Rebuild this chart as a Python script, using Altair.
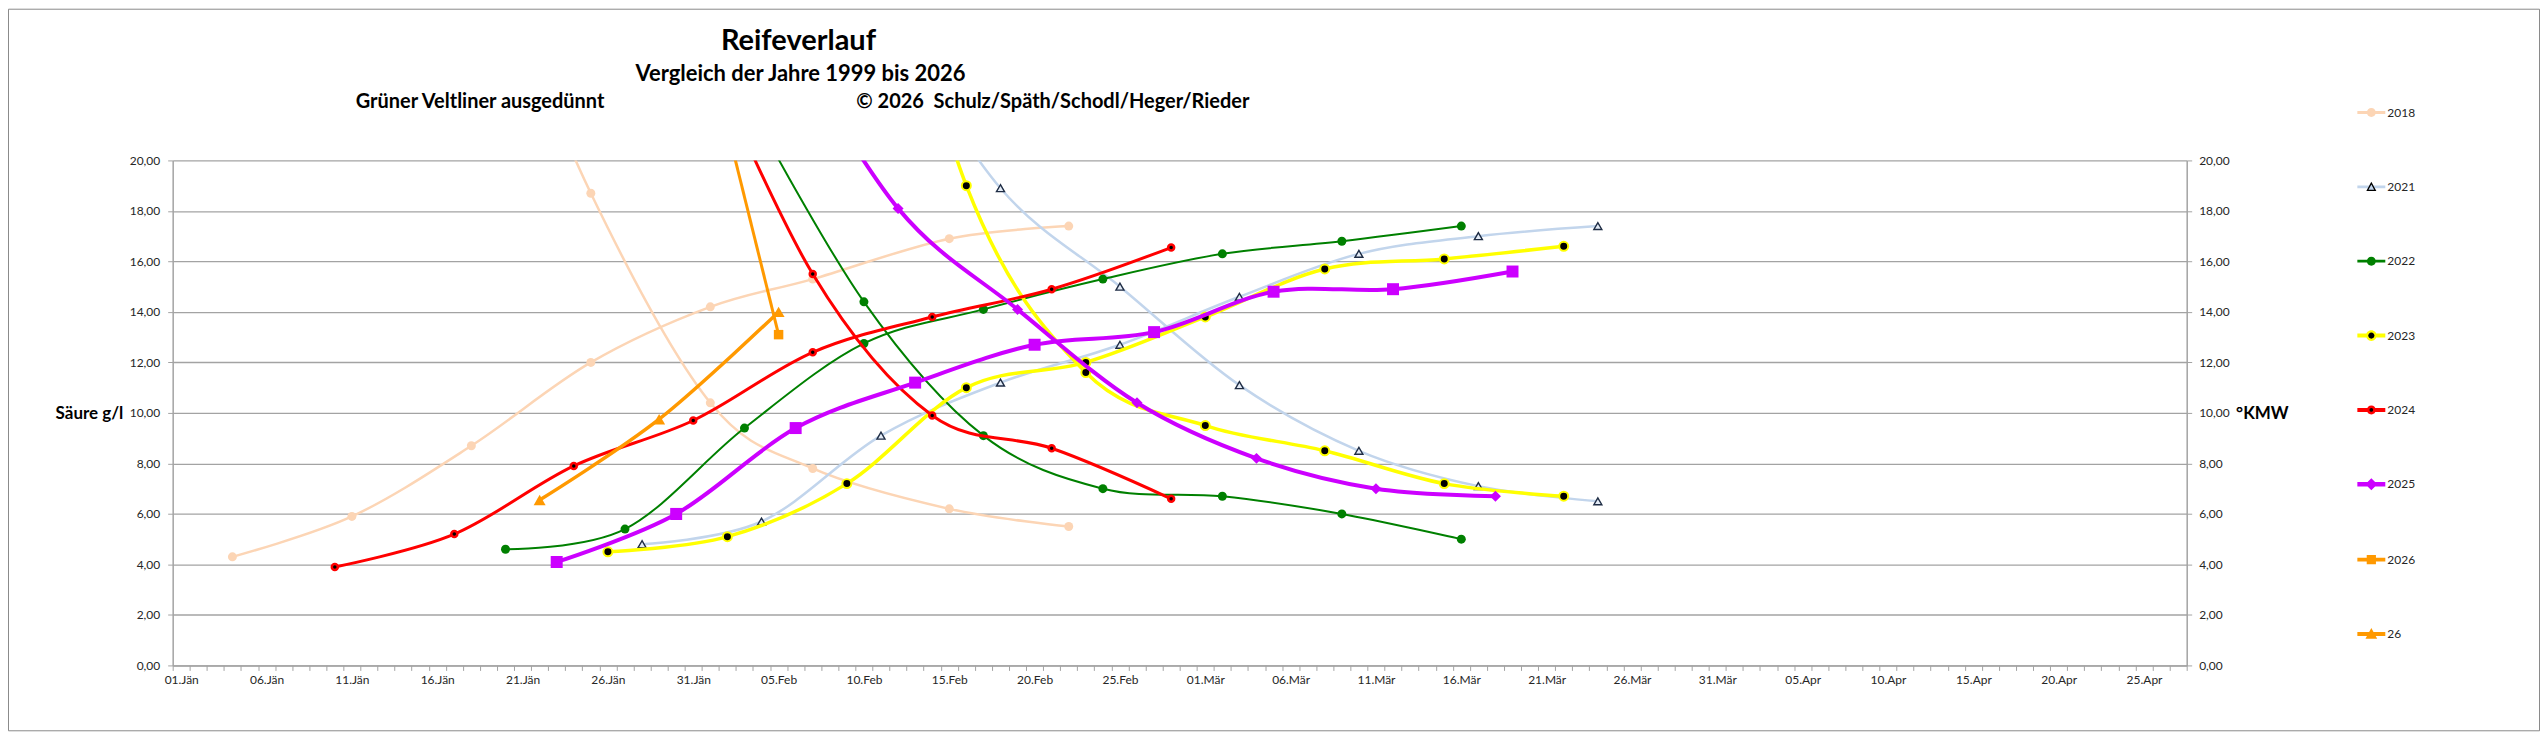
import altair as alt
import pandas as pd

# ---------------- data (dates as MM-DD, day 0 = 01.Jän, leap-year calendar) ----------------
SERIES = ["2018", "2021", "2022", "2023", "2024", "2025", "2026", "26"]

# Zucker (°KMW)  /  Säure (g/l)
Z2018_DATES = ["01-04", "01-11", "01-18", "01-25", "02-01", "02-07", "02-15", "02-22"]
Z2018 = [4.3, 5.9, 8.7, 12.0, 14.2, 15.3, 16.9, 17.4]
S2018_DATES = ["01-18", "01-25", "02-01", "02-07", "02-15", "02-22"]
S2018 = [30.0, 18.7, 10.4, 7.8, 6.2, 5.5]

Z2021_DATES = ["01-28", "02-04", "02-11", "02-18", "02-25", "03-03", "03-10", "03-17", "03-24"]
Z2021 = [4.8, 5.7, 9.1, 11.2, 12.7, 14.6, 16.3, 17.0, 17.4]
S2021_DATES = ["02-11", "02-18", "02-25", "03-03", "03-10", "03-17", "03-24"]
S2021 = [26.0, 18.9, 15.0, 11.1, 8.5, 7.1, 6.5]

Z2022_DATES = ["01-20", "01-27", "02-03", "02-10", "02-17", "02-24", "03-02", "03-09", "03-16"]
Z2022 = [4.6, 5.4, 9.4, 12.75, 14.1, 15.3, 16.3, 16.8, 17.4]
S2022_DATES = ["02-03", "02-10", "02-17", "02-24", "03-02", "03-09", "03-16"]
S2022 = [22.5, 14.4, 9.1, 7.0, 6.7, 6.0, 5.0]

Z2023_DATES = ["01-26", "02-02", "02-09", "02-16", "02-23", "03-01", "03-08", "03-15", "03-22"]
Z2023 = [4.5, 5.1, 7.2, 11.0, 12.0, 13.8, 15.7, 16.1, 16.6]
S2023_DATES = ["02-09", "02-16", "02-23", "03-01", "03-08", "03-15", "03-22"]
S2023 = [36.0, 19.0, 11.6, 9.5, 8.5, 7.2, 6.7]

Z2024_DATES = ["01-10", "01-17", "01-24", "01-31", "02-07", "02-14", "02-21", "02-28"]
Z2024 = [3.9, 5.2, 7.9, 9.7, 12.4, 13.8, 14.9, 16.55]
S2024_DATES = ["01-31", "02-07", "02-14", "02-21", "02-28"]
S2024 = [25.5, 15.5, 9.9, 8.6, 6.6]

Z2025_DATES = ["01-23", "01-30", "02-06", "02-13", "02-20", "02-27", "03-05", "03-12", "03-19"]
Z2025 = [4.1, 6.0, 9.4, 11.2, 12.7, 13.2, 14.8, 14.9, 15.6]
S2025_DATES = ["02-05", "02-12", "02-19", "02-26", "03-04", "03-11", "03-18"]
S2025 = [25.5, 18.1, 14.1, 10.4, 8.2, 7.0, 6.7]

S2026_DATES = ["01-29", "02-05"]          # series "2026" (Säure)
S2026 = [32.2, 13.1]
Z26_DATES = ["01-22", "01-29", "02-05"]    # series "26" (Zucker)
Z26 = [6.55, 9.75, 14.0]

X_DOMAIN = [-0.5, 117.5]   # 01.Jän .. 27.Apr
Y_TICKS = [0, 2, 4, 6, 8, 10, 12, 14, 16, 18, 20]


def to_day(mmdd):
    return (pd.Timestamp(f"2000-{mmdd}") - pd.Timestamp("2000-01-01")).days


def frame(dates, values):
    return pd.DataFrame({"day": [to_day(d) for d in dates], "value": values})


# ---------------- styling ----------------
FONT = "Lato"
GRID = "#A3A3A3"
TXT = "#262626"
W, H = 2018, 506
HALF_DAY = W / (X_DOMAIN[1] - X_DOMAIN[0]) / 2

month_expr = "['Jän','Feb','Mär','Apr'][month(datetime(2000, 0, 1 + datum.value + 0.5))]"
XAXIS = alt.Axis(
    values=[d - 0.5 for d in range(0, 119)],
    labelExpr="(datum.value + 0.5) % 5 == 0 ? timeFormat(datetime(2000, 0, 1 + datum.value + 0.5), '%d') + '.' + "
    + month_expr + " : ''",
    labelOffset=HALF_DAY, labelOverlap=False, labelFlush=False, labelBound=False,
    labelFont=FONT, labelFontSize=12, labelColor=TXT, labelPadding=4,
    tickSize=5, tickColor=GRID, tickWidth=1, domainColor=GRID, domainWidth=1.5,
    grid=False, title=None,
)
X = alt.X("day:Q", scale=alt.Scale(domain=X_DOMAIN, nice=False, zero=False), axis=XAXIS)

YFMT = "replace(format(datum.value, '.2f'), '.', ',')"
LEFT_AXIS = alt.Axis(
    values=Y_TICKS, labelExpr=YFMT, labelFont=FONT, labelFontSize=12, labelColor=TXT, labelPadding=8,
    tickSize=5, tickColor=GRID, domainColor=GRID, domainWidth=1.5,
    grid=True, gridColor=GRID, gridWidth=1.3,
    title="Säure g/l", titleAngle=0, titleAlign="right", titleBaseline="alphabetic",
    titleX=-50, titleY=259, titleFont=FONT, titleFontSize=17, titleFontWeight="bold", titleColor="#000000",
)
Y = alt.Y("value:Q", scale=alt.Scale(domain=[0, 20], nice=False, zero=True), axis=LEFT_AXIS)

RIGHT_AXIS = alt.Axis(
    orient="right", values=Y_TICKS, labelExpr=YFMT, labelFont=FONT, labelFontSize=12, labelColor=TXT,
    labelPadding=7, tickSize=5, tickColor=GRID, domainColor=GRID, domainWidth=1.5, grid=False,
    title="°KMW", titleAngle=0, titleAlign="left", titleBaseline="alphabetic",
    titleX=49, titleY=259, titleFont=FONT, titleFontSize=17, titleFontWeight="bold", titleColor="#000000",
)
YR = alt.Y("value:Q", scale=alt.Scale(domain=[0, 20], nice=False, zero=True), axis=RIGHT_AXIS)


def layers(df, line_color, line_width, shape, size, fill, stroke, sw):
    base = alt.Chart(df).encode(x=X, y=Y)
    line = base.mark_line(interpolate="cardinal", color=line_color, strokeWidth=line_width, clip=True)
    pts = base.mark_point(shape=shape, size=size, filled=True, fill=fill, stroke=stroke,
                          strokeWidth=sw, opacity=1, clip=True)
    return [line, pts]


C18, C21, C22, C23, C24, C25, C26 = "#FCD5B5", "#C2D5EC", "#008000", "#FFFF00", "#FF0000", "#CC00FF", "#FF9900"

data_layers = []
data_layers += layers(frame(S2018_DATES, S2018), C18, 2.5, "circle", 81, C18, C18, 0)
data_layers += layers(frame(Z2018_DATES, Z2018), C18, 2.5, "circle", 81, C18, C18, 0)
data_layers += layers(frame(S2021_DATES, S2021), C21, 2.5, "triangle-up", 64, "#E4ECF7", "#1F2D45", 1.4)
data_layers += layers(frame(Z2021_DATES, Z2021), C21, 2.5, "triangle-up", 64, "#E4ECF7", "#1F2D45", 1.4)
data_layers += layers(frame(S2022_DATES, S2022), C22, 2, "circle", 81, C22, C22, 0)
data_layers += layers(frame(Z2022_DATES, Z2022), C22, 2, "circle", 81, C22, C22, 0)
data_layers += layers(frame(S2023_DATES, S2023), C23, 3.5, "circle", 81, "#000000", C23, 2)
data_layers += layers(frame(Z2023_DATES, Z2023), C23, 3.5, "circle", 81, "#000000", C23, 2)
data_layers += layers(frame(S2024_DATES, S2024), C24, 3, "circle", 36, "#000000", C24, 2.5)
data_layers += layers(frame(Z2024_DATES, Z2024), C24, 3, "circle", 36, "#000000", C24, 2.5)
data_layers += layers(frame(S2025_DATES, S2025), C25, 4, "diamond", 121, C25, C25, 0)
data_layers += layers(frame(Z2025_DATES, Z2025), C25, 4, "square", 144, C25, C25, 0)
data_layers += layers(frame(S2026_DATES, S2026), C26, 3, "square", 90, C26, C26, 0)
data_layers += layers(frame(Z26_DATES, Z26), C26, 3.5, "triangle-up", 144, C26, C26, 0)

# ---------------- titles & chart frame (annotation, pixel positions relative to plot) ----------------
one = pd.DataFrame({"k": [0]})


def label(text, x, y, size, align="center"):
    return alt.Chart(one).mark_text(text=text, font=FONT, fontSize=size, fontWeight="bold", color="#000000",
                                    align=align, baseline="alphabetic").encode(x=alt.value(x), y=alt.value(y))


annotations = [
    alt.Chart(one).mark_rect(fillOpacity=0, stroke="#8A8A8A", strokeWidth=1).encode(
        x=alt.value(-164.5), x2=alt.value(2371.5), y=alt.value(-151.5), y2=alt.value(571.5)),
    label("Reifeverlauf", 627, -111, 29),
    label("Vergleich der Jahre 1999 bis 2026", 629, -80, 22),
    label("Grüner Veltliner ausgedünnt", 308, -53, 20),
    label("© 2026\u00a0 Schulz/Späth/Schodl/Heger/Rieder", 685, -53, 20, align="left"),
]

left = alt.layer(*annotations, *data_layers)

# ---------------- legend (Excel style: line + marker) ----------------
def rline(h):
    return f"M-1,{-h}H1V{h}H-1Z"


def circ(r):
    return f"M{r},0A{r},{r} 0 1,1 {-r},0A{r},{r} 0 1,1 {r},0Z"


def sq(s):
    return f"M{-s},{-s}H{s}V{s}H{-s}Z"


def dia(s):
    return f"M0,{-s}L{s},0L0,{s}L{-s},0Z"


def tri(s):
    return f"M0,{-s}L{s},{s * 0.8}L{-s},{s * 0.8}Z"


PATHS1 = [
    rline(0.1) + circ(0.32),
    rline(0.1) + tri(0.32),
    rline(0.1) + circ(0.32),
    rline(0.14) + circ(0.38),
    rline(0.14) + circ(0.32),
    rline(0.16) + dia(0.43),
    rline(0.14) + sq(0.33),
    rline(0.14) + tri(0.42),
]
EMPTY = "M0,0L0,0Z"
PATHS2 = [
    EMPTY,
    "M0,-0.36L0.36,0.29L-0.36,0.29Z M0,-0.17L-0.2,0.2L0.2,0.2Z",
    EMPTY,
    circ(0.22),
    circ(0.13),
    EMPTY,
    EMPTY,
    EMPTY,
]
LEG_COLORS = [C18, C21, C22, C23, C24, C25, C26, C26]

leg_common = dict(orient="none", legendX=2189, legendY=-62, direction="vertical", title=None,
                  symbolSize=784, symbolStrokeWidth=0, symbolOpacity=1, rowPadding=54.5,
                  labelFont=FONT, labelFontSize=12, labelColor=TXT, labelOffset=2, padding=0)
LEG1 = alt.Legend(**leg_common)
LEG2 = alt.Legend(**leg_common, symbolFillColor="#000000", labelExpr="''")

leg_df = pd.DataFrame({"series": SERIES, "day": [0] * len(SERIES), "value": [0] * len(SERIES)})
leg1 = alt.Chart(leg_df).transform_filter("false").mark_point(filled=True, size=784, opacity=1).encode(
    x=X, y=YR,
    color=alt.Color("series:N", scale=alt.Scale(domain=SERIES, range=LEG_COLORS), legend=LEG1),
    shape=alt.Shape("series:N", scale=alt.Scale(domain=SERIES, range=PATHS1), legend=LEG1),
)
leg2 = alt.Chart(leg_df).transform_filter("false").mark_point(filled=True, size=784, opacity=1,
                                                               fill="#000000").encode(
    x=X, y=YR,
    shape=alt.Shape("series:N", scale=alt.Scale(domain=SERIES, range=PATHS2), legend=LEG2),
)
right = alt.layer(leg1, leg2).resolve_scale(shape="independent", color="independent")

chart = (
    alt.layer(left, right)
    .resolve_scale(y="independent")
    .properties(width=W, height=H, padding=0, background="#FFFFFF")
    .configure_view(strokeWidth=0)
)

chart.save("out.html", embed_options={"renderer": "svg", "actions": False})
